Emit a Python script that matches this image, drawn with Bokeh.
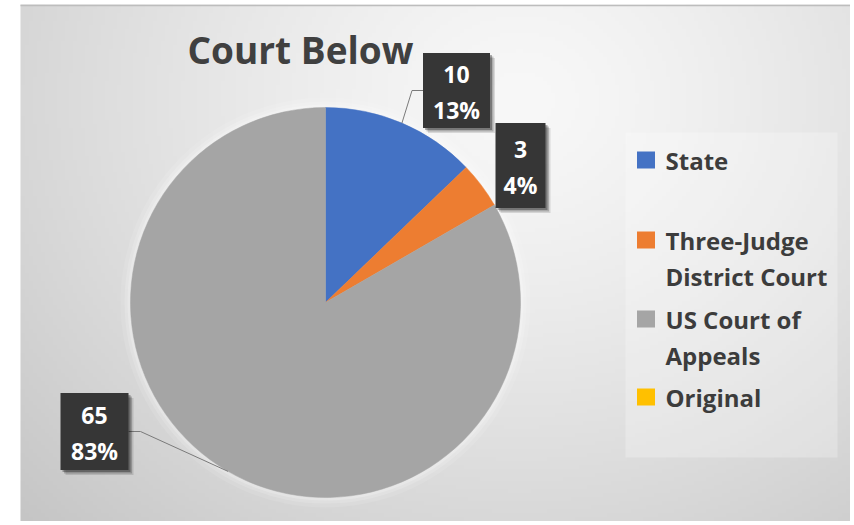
import numpy as np
from bokeh.plotting import figure
from bokeh.models import Range1d, ColumnDataSource
from bokeh.core.properties import value
from bokeh.embed import file_html
from bokeh.resources import INLINE

# ---- data ----
title = "Court Below"
categories = ["State", "Three-Judge\nDistrict Court", "US Court of\nAppeals", "Original"]
counts = [10, 3, 65, 0]
colors = ["#4472C4", "#ED7D31", "#A5A5A5", "#FFC000"]

# ---- layout (page pixel coordinates) ----
W, H = 850, 521
def Y(yp):
    return H - np.asarray(yp, dtype=float)

CX, CY, R = 325, 302, 195
FONT = value("Open Sans")

p = figure(width=W, height=H, x_range=Range1d(0, W), y_range=Range1d(0, H),
           output_backend="svg", toolbar_location=None, x_axis_type=None, y_axis_type=None,
           min_border=0)
p.grid.visible = False
p.outline_line_color = None
p.background_fill_color = "white"
p.border_fill_color = "white"

# ---- background gradient of chart area ----
x0, x1, y0, y1 = 20, W, 4, 521
nx, ny = 208, 129
xs = x0 + (np.arange(nx) + 0.5) * (x1 - x0) / nx
ys = y1 - (np.arange(ny) + 0.5) * (y1 - y0) / ny
XX, YY = np.meshgrid(xs, ys)
d = np.sqrt(((XX - 520) / 600) ** 2 + ((YY - 100) / 520) ** 2)
c = np.clip(248 - 42 * d ** 1.3, 190, 250).astype(np.uint8)
img = np.empty((ny, nx), dtype=np.uint32)
view = img.view(dtype=np.uint8).reshape((ny, nx, 4))
view[..., 0] = c
view[..., 1] = c
view[..., 2] = c
view[..., 3] = 255
p.image_rgba(image=[img], x=x0, y=float(Y(y1)), dw=x1 - x0, dh=y1 - y0)
p.segment(x0=[x0], y0=[float(Y(5))], x1=[W], y1=[float(Y(5))], line_color="#bdbdbd", line_width=1.5)

# ---- glow around the pie ----
for extra, a in [(10, 0.10), (6, 0.15), (3, 0.2)]:
    p.circle(x=[CX], y=[float(Y(CY))], radius=R + extra, fill_color="white", fill_alpha=a, line_color=None)

# ---- pie ----
total = float(sum(counts))
cum = np.concatenate([[0], np.cumsum(counts)])
start = np.pi / 2 - cum[:-1] / total * 2 * np.pi
end = np.pi / 2 - cum[1:] / total * 2 * np.pi
mid = (start + end) / 2
keep = [i for i, v in enumerate(counts) if v > 0]
src = ColumnDataSource(dict(
    start=[start[i] for i in keep], end=[end[i] for i in keep],
    color=[colors[i] for i in keep]))
p.wedge(x=CX, y=float(Y(CY)), radius=R, start_angle="start", end_angle="end",
        direction="clock", fill_color="color", line_color="color", line_width=0.5, source=src)

# ---- data labels (box centres, sizes, leader side) ----
label_boxes = {0: (456, 90, 67, 75, "left"), 1: (520, 165, 50, 85, None), 2: (94, 431, 68, 77, "right")}
for i, (bx, by, bw, bh, side) in label_boxes.items():
    v = counts[i]
    pct = "%d%%" % round(100 * v / total)
    if side is not None:
        ex = CX + R * np.cos(mid[i])
        ey = CY - R * np.sin(mid[i])
        if side == "left":
            ax = bx - bw / 2
            kx = ax - 11
        else:
            ax = bx + bw / 2
            kx = ax + 12
        p.line(x=[ex, kx, ax], y=list(Y([ey, by, by])), line_color="#7a7a7a", line_width=1)
    for off, a in [(5, 0.12), (3.5, 0.2), (2, 0.3)]:
        p.rect(x=[bx + off], y=[float(Y(by + off))], width=bw, height=bh,
               fill_color="black", fill_alpha=a, line_color=None)
    p.rect(x=[bx], y=[float(Y(by))], width=bw, height=bh, fill_color="#363636", line_color=None)
    p.text(x=[bx, bx], y=list(Y([by - 16, by + 19])), text=[str(v), pct],
           text_font=FONT, text_font_style="bold", text_font_size="23px",
           text_color="white", text_align="center", text_baseline="alphabetic")

# ---- title ----
p.text(x=[187], y=[float(Y(49))], text=[title], text_font=FONT, text_font_style="bold",
       text_font_size="37px", text_color="#404040", text_align="left", text_baseline="alphabetic")

# ---- legend ----
p.rect(x=[(625 + 837) / 2], y=[float(Y((132 + 457) / 2))], width=837 - 625, height=457 - 132,
       fill_color="white", fill_alpha=0.25, line_color=None)
legend_baselines = [160, 240, 319, 397]
line_gap = 36
for i, lab in enumerate(categories):
    b = legend_baselines[i]
    p.rect(x=[645.5], y=[float(Y(b - 0.5))], width=18, height=17, fill_color=colors[i], line_color=None)
    lines = lab.split("\n")
    p.text(x=[665] * len(lines), y=list(Y([b + k * line_gap for k in range(len(lines))])), text=lines,
           text_font=FONT, text_font_style="bold", text_font_size="24px", text_color="#3c3c3c",
           text_align="left", text_baseline="alphabetic")

open("out.html", "w").write(file_html(p, INLINE))
